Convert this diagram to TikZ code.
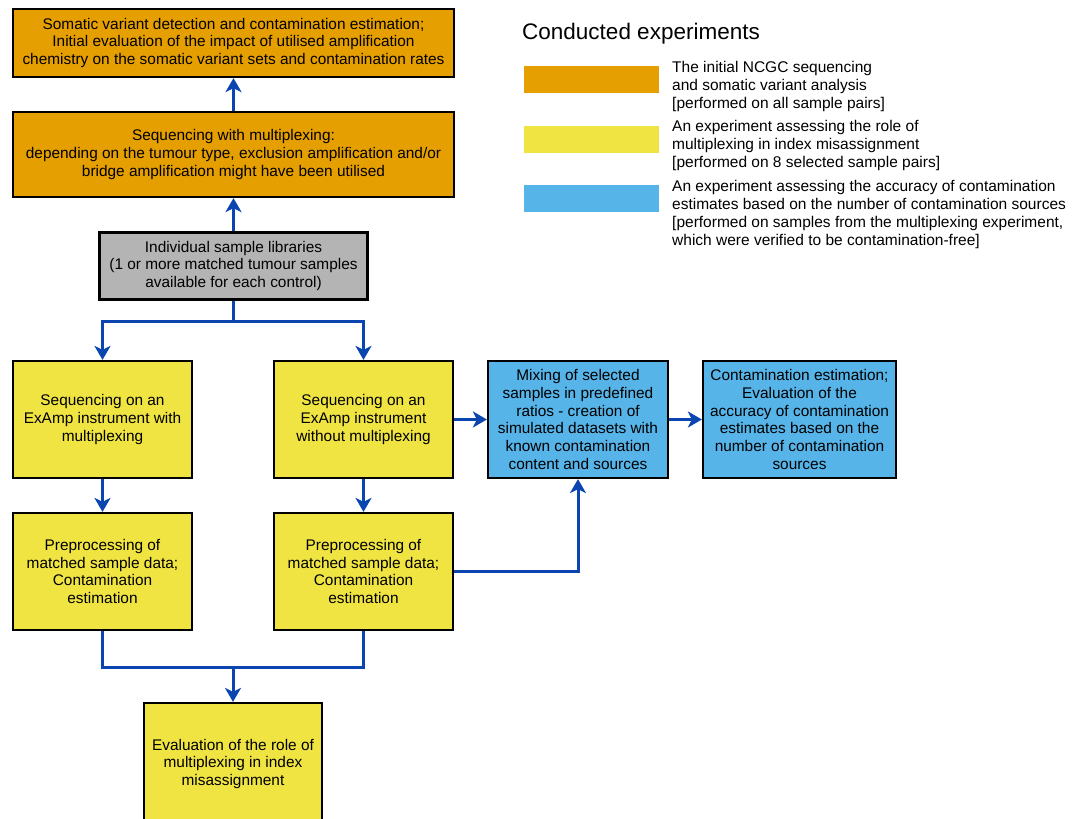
\documentclass[tikz,border=0pt]{standalone}
\usepackage{fontspec}
\setmainfont{Liberation Sans}
\usetikzlibrary{arrows.meta}
\definecolor{orng}{HTML}{E69F00}
\definecolor{ylw}{HTML}{F0E442}
\definecolor{sky}{HTML}{56B4E9}
\definecolor{gry}{HTML}{B4B4B4}
\definecolor{arrblue}{HTML}{0A45B0}
\begin{document}
\begin{tikzpicture}[x=1pt,y=-1pt,
  box/.style={draw=black, line width=2.2pt, align=center, inner sep=0pt,
    font=\fontsize{15.4}{17.8}\selectfont, text=black},
  swatch/.style={inner sep=0pt, minimum width=135, minimum height=27},
  legtext/.style={anchor=north west, inner sep=0pt, align=left,
    font=\fontsize{15.5}{18}\selectfont},
  link/.style={draw=arrblue, line width=3pt},
  arr/.style={link, -{Stealth[length=14pt,width=16pt,inset=4pt]}},
]
\path[use as bounding box] (0,0) rectangle (1077,819);
\clip (0,0) rectangle (1077,819);

% main boxes
\node[box, fill=orng, minimum width=441, minimum height=68] (b1) at (233.5,43)
  {Somatic variant detection and contamination estimation;\\
   Initial evaluation of the impact of utilised amplification\\
   chemistry on the somatic variant sets and contamination rates};
\node[box, fill=orng, minimum width=441, minimum height=85] (b2) at (233.5,154.5)
  {Sequencing with multiplexing:\\
   depending on the tumour type, exclusion amplification and/or\\
   bridge amplification might have been utilised};
\node[box, fill=gry, minimum width=268, minimum height=67] (b3) at (233.5,266)
  {Individual sample libraries\\
   (1 or more matched tumour samples\\
   available for each control)};
\node[box, fill=ylw, minimum width=179, minimum height=117] (b4) at (102.5,419.5)
  {Sequencing on an\\ ExAmp instrument with\\ multiplexing};
\node[box, fill=ylw, minimum width=179, minimum height=117] (b5) at (363.5,419.5)
  {Sequencing on an\\ ExAmp instrument\\ without multiplexing};
\node[box, fill=ylw, minimum width=179, minimum height=117] (b6) at (102.5,571.5)
  {Preprocessing of\\ matched sample data;\\ Contamination\\ estimation};
\node[box, fill=ylw, minimum width=179, minimum height=117] (b7) at (363.5,571.5)
  {Preprocessing of\\ matched sample data;\\ Contamination\\ estimation};
\node[box, fill=sky, minimum width=180, minimum height=117] (b8) at (578,419.5)
  {Mixing of selected\\ samples in predefined\\ ratios - creation of\\
   simulated datasets with\\ known contamination\\ content and sources};
\node[box, fill=sky, minimum width=193, minimum height=117] (b9) at (799.5,419.5)
  {Contamination estimation;\\ Evaluation of the\\ accuracy of contamination\\
   estimates based on the\\ number of contamination\\ sources};
\node[box, fill=ylw, minimum width=178, minimum height=122] (b10) at (233,764)
  {Evaluation of the role of\\ multiplexing in index\\ misassignment};

% connectors
\draw[arr] (b3.north) -- (b2.south);
\draw[arr] (b2.north) -- (b1.south);
\coordinate (split) at (233.5,321);
\draw[link] (b3.south) -- (split);
\draw[arr] (split) -| (b4.north);
\draw[arr] (split) -| (b5.north);
\draw[arr] (b4.south) -- (b6.north);
\draw[arr] (b5.south) -- (b7.north);
\draw[arr] (b5.east) -- (b8.west);
\draw[arr] (b8.east) -- (b9.west);
\draw[arr] (b7.east) -| (b8.south);
\coordinate (join) at (233,667);
\draw[link] (b6.south) |- (join);
\draw[link] (b7.south) |- (join);
\draw[arr] (join) -- (b10.north);

% legend
\node[anchor=base west, inner sep=0pt, font=\fontsize{22.5}{26}\selectfont] (lt) at (522,39)
  {Conducted experiments};
\node[swatch, fill=orng] (s1) at (591.5,79.5) {};
\node[swatch, fill=ylw] (s2) at (591.5,139.5) {};
\node[swatch, fill=sky] (s3) at (591.5,198.5) {};
\node[legtext] (l1) at (672,61)
  {The initial NCGC sequencing\\ and somatic variant analysis\\
   {[}performed on all sample pairs{]}};
\node[legtext] (l2) at (672,120)
  {An experiment assessing the role of\\ multiplexing in index misassignment\\
   {[}performed on 8 selected sample pairs{]}};
\node[legtext] (l3) at (672,180)
  {An experiment assessing the accuracy of contamination\\
   estimates based on the number of contamination sources\\
   {[}performed on samples from the multiplexing experiment,\\
   which were verified to be contamination-free{]}};
\end{tikzpicture}
\end{document}
